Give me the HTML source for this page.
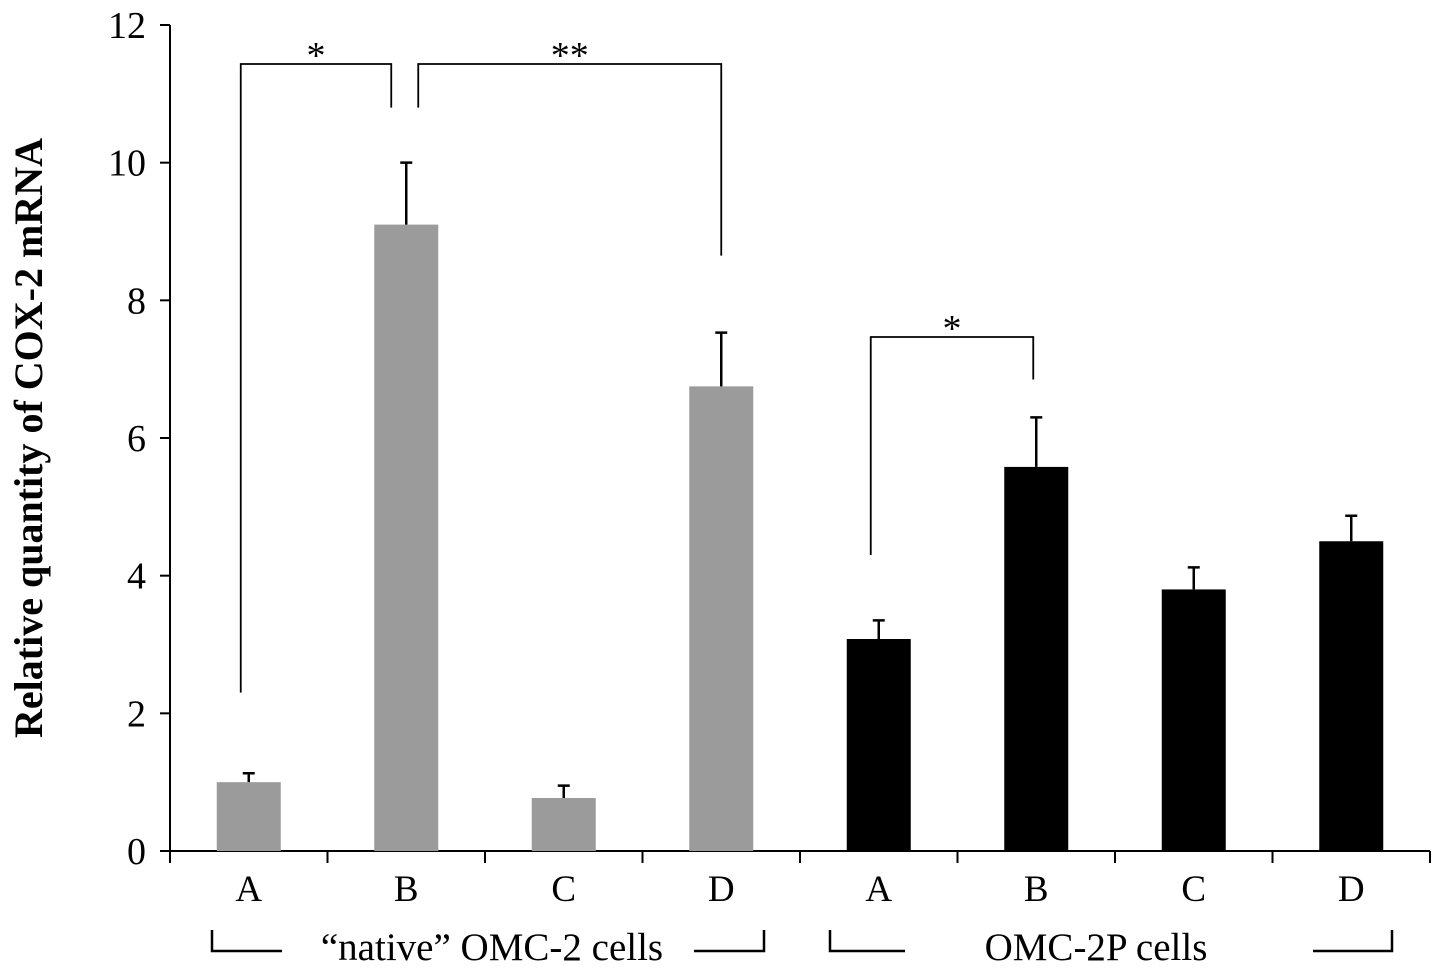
<!DOCTYPE html>
<html><head><meta charset="utf-8"><style>
body{margin:0;background:#fff}
svg{display:block}
text{font-family:"Liberation Serif",serif;fill:#000}
</style></head><body>
<svg id="chart" width="1441" height="974" viewBox="0 0 1441 974" xmlns="http://www.w3.org/2000/svg">
<g id="axes"></g>
<g id="bars"></g>
<g id="sig"></g>
<text transform="translate(42,438) rotate(-90)" text-anchor="middle" font-size="40" font-weight="bold">Relative quantity of COX-2 mRNA</text>
<text x="492" y="960" text-anchor="middle" font-size="39">“native” OMC-2 cells</text>
<text x="1096" y="960" text-anchor="middle" font-size="39">OMC-2P cells</text>
<path d="M212,930V951H282M694,951H764V930" fill="none" stroke="#000" stroke-width="2.5"/>
<path d="M830,930V951H905M1313,951H1392V930" fill="none" stroke="#000" stroke-width="2.5"/>
</svg>
<script>
const categories=["A","B","C","D","A","B","C","D"];
const values=[1.0,9.1,0.77,6.75,3.08,5.58,3.8,4.5];
const errors=[0.13,0.9,0.18,0.78,0.27,0.72,0.32,0.37];
const groups=["native","native","native","native","omc2p","omc2p","omc2p","omc2p"];
const yTicks=[0,2,4,6,8,10,12];
const sigPairs=[[0,1,"*",64,2.3,10.8],[1,3,"**",64,10.8,8.65],[4,5,"*",337,4.3,6.85]];
const NS="http://www.w3.org/2000/svg";
const x0=170,x1=1430,y0=851,yTop=25,yMax=12;
const bw=(x1-x0)/categories.length;
const Y=v=>y0-(v/yMax)*(y0-yTop);
const X=i=>x0+bw*(i+0.5);
function mk(parent,tag,attrs){const e=document.createElementNS(NS,tag);for(const k in attrs)e.setAttribute(k,attrs[k]);parent.appendChild(e);return e;}
const ax=document.getElementById('axes');
let l=mk(ax,'line',{x1:x0,y1:yTop,x2:x0,y2:y0,stroke:'#000','stroke-width':2});


l=mk(ax,'line',{x1:x0,y1:y0,x2:x1,y2:y0,stroke:'#000','stroke-width':2});


yTicks.forEach(t=>{
 const tk=mk(ax,'line',{x1:x0-10,y1:Y(t),x2:x0,y2:Y(t),stroke:'#000','stroke-width':2});
 
 
 const tx=mk(ax,'text',{x:x0-24,y:Y(t)+13,'text-anchor':'end','font-size':38});
 tx.textContent=t;
 
 
});
for(let i=0;i<=categories.length;i++){
 const tk=mk(ax,'line',{x1:x0+bw*i,y1:y0,x2:x0+bw*i,y2:y0+12,stroke:'#000','stroke-width':2});
 
 
}
const bg=document.getElementById('bars');
categories.forEach((c,i)=>{
 const col=groups[i]==="native"?"#9b9b9b":"#000";
 const r=mk(bg,'rect',{x:X(i)-32,y:Y(values[i]),width:64,height:y0-Y(values[i]),fill:col});
 
 
 const top=Y(values[i]+errors[i]);
 const e=mk(bg,'path',{d:`M${X(i)},${Y(values[i])}V${top}M${X(i)-6},${top}H${X(i)+6}`,stroke:'#000','stroke-width':2.5,fill:'none'});
 
 
 const tx=mk(bg,'text',{x:X(i),y:901,'text-anchor':'middle','font-size':37});
 tx.textContent=c;
 
 
});
const sg=document.getElementById('sig');
sigPairs.forEach(([a,b,s,yy,la,lb],k)=>{
 const xa=X(a)+(k==1?12:-8),xb=X(b)+(k==0?-15:(k==2?-3:0));
 const p=mk(sg,'path',{d:`M${xa},${Y(la)}V${yy}H${xb}V${Y(lb)}`,stroke:'#000','stroke-width':1.8,fill:'none'});
 
 
 const t=mk(sg,'text',{x:(xa+xb)/2,y:yy+4,'text-anchor':'middle','font-size':38});
 t.textContent=s;
 
 
});
</script>
</body></html>
